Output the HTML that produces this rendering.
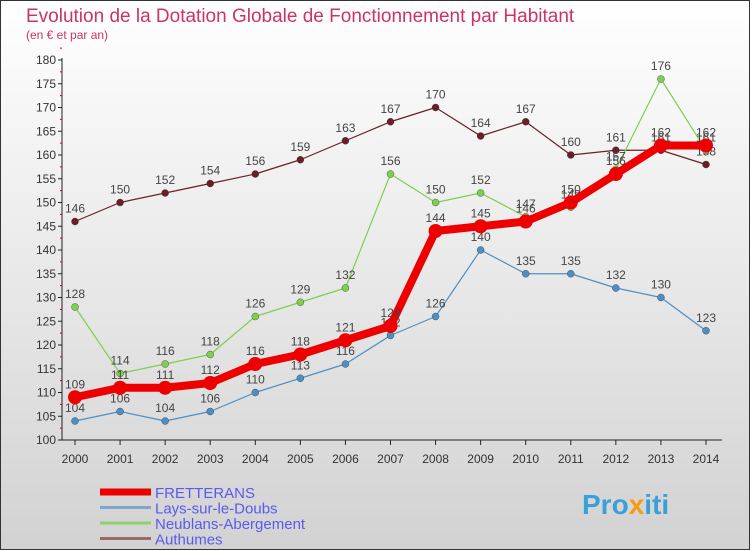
<!DOCTYPE html>
<html><head><meta charset="utf-8"><style>
body{margin:0;width:750px;height:550px;overflow:hidden;font-family:"Liberation Sans",sans-serif}
svg{display:block}
</style></head><body>
<svg id="chart" width="750" height="550" xmlns="http://www.w3.org/2000/svg">
<defs>
<linearGradient id="bg" x1="0" y1="0" x2="0" y2="1"><stop offset="0" stop-color="#ffffff"/><stop offset="1" stop-color="#d2d2d2"/></linearGradient>
</defs>
<rect x="0.5" y="0.5" width="749" height="549" fill="url(#bg)" stroke="#333"/>
<text x="26" y="22" font-size="19" fill="#cc3366">Evolution de la Dotation Globale de Fonctionnement par Habitant</text>
<text x="26" y="39" font-size="12" fill="#cc3366">(en € et par an)</text>
<g id="axes"></g><g id="series"></g><g id="legend"></g>
<text x="582" y="514" font-size="28" font-weight="bold" fill="#3aa0d8">Pro<tspan fill="#f39c12">x</tspan>iti</text>
</svg>
<script>
const years=[2000,2001,2002,2003,2004,2005,2006,2007,2008,2009,2010,2011,2012,2013,2014];
const fretterans=[109,111,111,112,116,118,121,124,144,145,146,150,156,162,162];
const lays=[104,106,104,106,110,113,116,122,126,140,135,135,132,130,123];
const neublans=[128,114,116,118,126,129,132,156,150,152,147,149,157,176,161];
const authumes=[146,150,152,154,156,159,163,167,170,164,167,160,161,161,158];
const yTicks=[100,105,110,115,120,125,130,135,140,145,150,155,160,165,170,175,180];
const NS="http://www.w3.org/2000/svg";
const x=i=>75+i*(631/14);
const y=v=>440-(v-100)*4.75;
function mk(t,a,p){const e=document.createElementNS(NS,t);for(const k in a)e.setAttribute(k,a[k]);p.appendChild(e);return e;}
const ax=document.getElementById('axes');
const yl=mk('line',{x1:62,y1:58,x2:62,y2:440,stroke:'#222'},ax);


const xl=mk('line',{x1:62,y1:440,x2:722,y2:440,stroke:'#222'},ax);


yTicks.forEach(v=>{
  mk('line',{x1:58,y1:y(v),x2:62,y2:y(v),stroke:'#222'},ax);
  mk('line',{x1:60,y1:y(v+2.5),x2:62,y2:y(v+2.5),stroke:'#c00'},ax);
  const t=mk('text',{x:56,y:y(v)+4,'font-size':12,fill:'#333','text-anchor':'end'},ax);
  t.textContent=v;
  
  
});
years.forEach((yr,i)=>{
  mk('line',{x1:x(i),y1:440,x2:x(i),y2:445,stroke:'#222'},ax);
  const t=mk('text',{x:x(i),y:463,'font-size':12,fill:'#333','text-anchor':'middle'},ax);
  t.textContent=yr;
  
  
});
const sg=document.getElementById('series');
const defs=[
 {name:'authumes',data:authumes,color:'#6b1f24',w:1.2,r:3.5,label:'Authumes',lc:'#9a6a6a'},
 {name:'neublans',data:neublans,color:'#7ed04a',w:1.2,r:3.5,label:'Neublans-Abergement',lc:'#8fd070'},
 {name:'lays',data:lays,color:'#4f8fc0',w:1.2,r:3.5,label:'Lays-sur-le-Doubs',lc:'#7fa8c8'},
 {name:'fretterans',data:fretterans,color:'#ee0000',w:8,r:7,label:'FRETTERANS',lc:'#ee0000'}
];
defs.forEach(s=>{
  const g=mk('g',{},sg);
  
  
  const pl=mk('polyline',{points:s.data.map((v,i)=>x(i)+','+y(v)).join(' '),fill:'none',stroke:s.color,'stroke-width':s.w,'stroke-linejoin':'round'},g);
  
  
  s.data.forEach((v,i)=>{
    const c=mk('circle',{cx:x(i),cy:y(v),r:s.r,fill:s.color,stroke:s.w>2?'none':'#335',"stroke-width":0.4},g);
    
    
    const t=mk('text',{x:x(i),y:y(v)-9,'font-size':12,fill:'#444','text-anchor':'middle'},g);
    t.textContent=v;
    
    
  });
});
const lg=document.getElementById('legend');
[defs[3],defs[2],defs[1],defs[0]].forEach((s,k)=>{
  const yy=492+k*15.5;
  mk('line',{x1:100,y1:yy,x2:151,y2:yy,stroke:s.lc,'stroke-width':s.w>2?7:3},lg);
  const t=mk('text',{x:155,y:yy+6,'font-size':15,fill:'#5a5aee'},lg);
  t.textContent=s.label;
  
  
});
</script>
</body></html>
